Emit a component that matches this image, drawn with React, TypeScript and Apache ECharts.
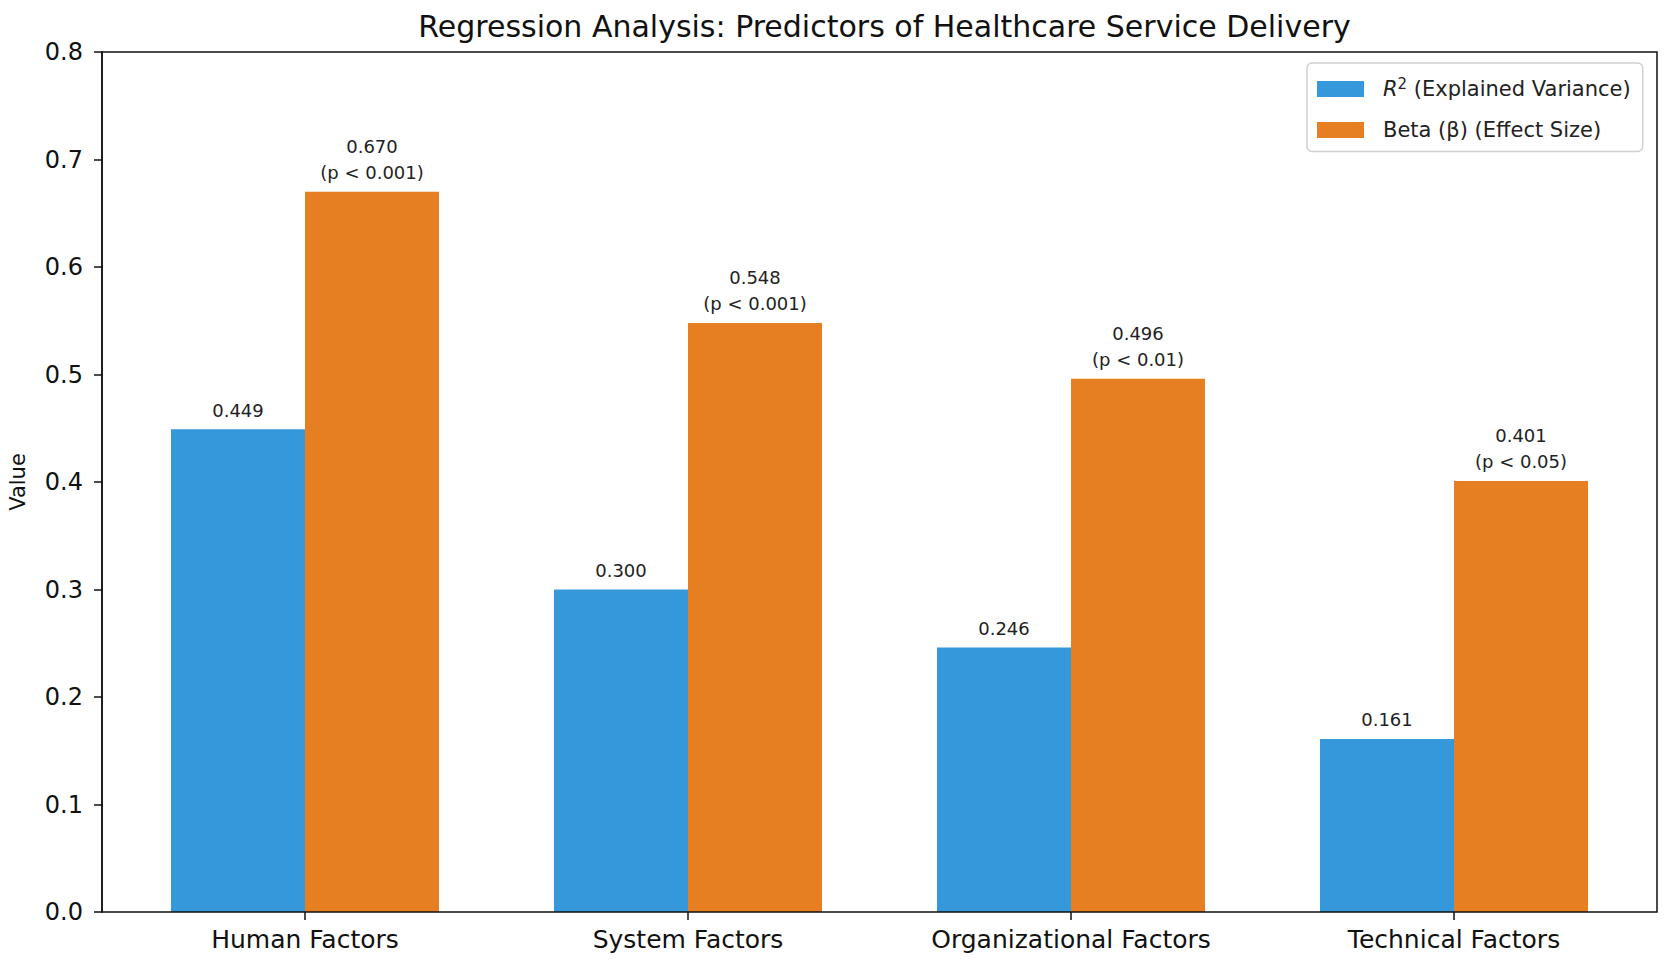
import React, { useEffect, useRef } from "react";
import * as echarts from "echarts";

const categories = ["Human Factors", "System Factors", "Organizational Factors", "Technical Factors"];
const rSquared = [0.449, 0.3, 0.246, 0.161];
const betaValues = [0.67, 0.548, 0.496, 0.401];
const pLabels = ["p < 0.001", "p < 0.001", "p < 0.01", "p < 0.05"];
const yTicks = [0, 0.1, 0.2, 0.3, 0.4, 0.5, 0.6, 0.7, 0.8];

const FONT = "'DejaVu Sans', 'Open Sans', sans-serif";
const W = 1665;
const H = 962;
const AX_LEFT = 102;
const AX_RIGHT = 1657;
const AX_TOP = 52;
const AX_BOTTOM = 912;
const BAND_LEFT = 113.5;
const BAND_RIGHT = 1645.5;

export default function App() {
  const ref = useRef<HTMLDivElement>(null);
  useEffect(() => {
    if (!ref.current) return;
    const chart = echarts.init(ref.current, null, { renderer: "svg" });
    chart.setOption({
      animation: false,
      backgroundColor: "#ffffff",
      textStyle: { fontFamily: FONT },
      title: {
        text: "Regression Analysis: Predictors of Healthcare Service Delivery",
        left: (AX_LEFT + AX_RIGHT) / 2,
        textAlign: "center",
        top: 6,
        textStyle: { fontFamily: FONT, fontSize: 30, fontWeight: "normal", color: "#111" },
      },
      legend: {
        orient: "vertical",
        left: 1307,
        top: 63,
        padding: [13, 12, 11, 10],
        itemWidth: 47,
        itemHeight: 16,
        itemGap: 20,
        borderColor: "#d0d0d0",
        borderWidth: 1.5,
        borderRadius: 5,
        backgroundColor: "#ffffff",
        data: [
          { name: "R2", icon: "rect" },
          { name: "Beta", icon: "rect" },
        ],
        formatter: (name: string) =>
          name === "R2" ? "{it|R}{sup|2}{t| (Explained Variance)}" : "{t|Beta (β) (Effect Size)}",
        textStyle: {
          fontFamily: FONT,
          fontSize: 21,
          color: "#222",
          padding: [0, 0, 0, 14],
          rich: {
            it: { fontFamily: FONT, fontSize: 21, fontStyle: "italic", color: "#222", lineHeight: 26 },
            sup: { fontFamily: FONT, fontSize: 15, color: "#222", lineHeight: 15, verticalAlign: "top" },
            t: { fontFamily: FONT, fontSize: 21, color: "#222", lineHeight: 26 },
          },
        },
      },
      grid: {
        left: BAND_LEFT,
        right: W - BAND_RIGHT,
        top: AX_TOP,
        bottom: H - AX_BOTTOM,
        containLabel: false,
        outerBoundsMode: "none",
      },
      xAxis: {
        type: "category",
        data: categories,
        axisLine: { show: false },
        axisTick: { show: true, alignWithLabel: true, length: 8, lineStyle: { color: "#111", width: 1.5 } },
        axisLabel: { fontFamily: FONT, fontSize: 25, color: "#111", margin: 15 },
        splitLine: { show: false },
      },
      yAxis: {
        type: "value",
        min: 0,
        max: 0.8,
        interval: 0.1,
        offset: BAND_LEFT - AX_LEFT,
        name: "Value",
        nameLocation: "middle",
        nameGap: 74,
        nameRotate: 90,
        nameTextStyle: { fontFamily: FONT, fontSize: 21, color: "#111" },
        axisLine: { show: true, lineStyle: { color: "#111", width: 1.5 } },
        axisTick: { show: true, length: 8, lineStyle: { color: "#111", width: 1.5 } },
        axisLabel: {
          fontFamily: FONT,
          fontSize: 24,
          color: "#111",
          margin: 19,
          formatter: (v: number) => (yTicks.some((t) => Math.abs(t - v) < 1e-9) ? v.toFixed(1) : ""),
        },
        splitLine: { show: false },
      },
      graphic: [
        {
          type: "rect",
          silent: true,
          z: 100,
          shape: { x: AX_LEFT, y: AX_TOP, width: AX_RIGHT - AX_LEFT, height: AX_BOTTOM - AX_TOP },
          style: { fill: "none", stroke: "#111", lineWidth: 1.5 },
        },
      ],
      series: [
        {
          name: "R2",
          type: "bar",
          data: rSquared,
          barWidth: 134,
          barGap: "0%",
          itemStyle: { color: "#3498db" },
          label: {
            show: true,
            position: "top",
            distance: 6,
            fontFamily: FONT,
            fontSize: 18,
            lineHeight: 26,
            color: "#222",
            formatter: (p: any) => Number(p.value).toFixed(3),
          },
        },
        {
          name: "Beta",
          type: "bar",
          data: betaValues,
          barWidth: 134,
          barGap: "0%",
          itemStyle: { color: "#e67e22" },
          label: {
            show: true,
            position: "top",
            distance: 6,
            fontFamily: FONT,
            fontSize: 18,
            lineHeight: 26,
            color: "#222",
            formatter: (p: any) => `${Number(p.value).toFixed(3)}\n(${pLabels[p.dataIndex]})`,
          },
        },
      ],
    });
    return () => chart.dispose();
  }, []);
  return (
    <div
      ref={ref}
      style={{ position: "fixed", left: 0, top: 0, width: W, height: H, background: "#fff" }}
    />
  );
}
